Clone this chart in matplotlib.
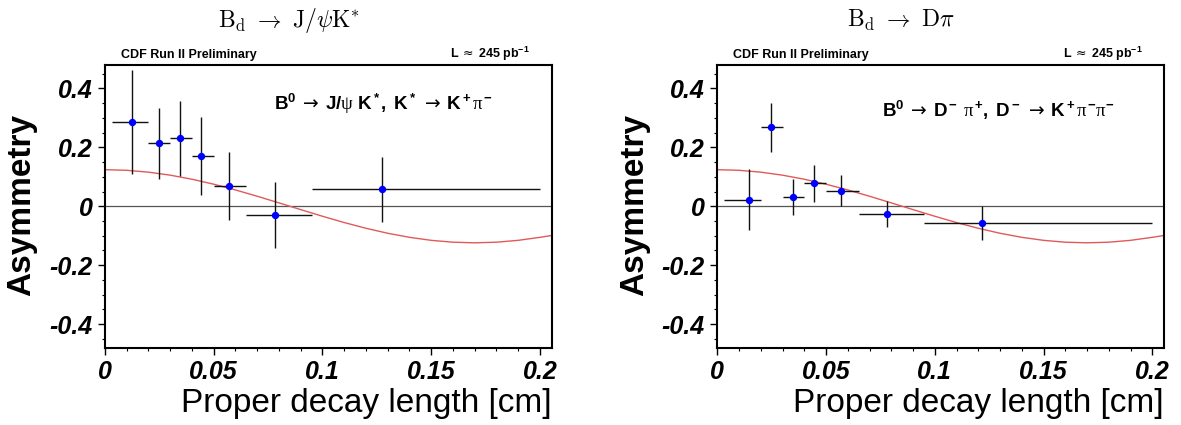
import matplotlib
matplotlib.use("Agg")
import matplotlib.pyplot as plt
from matplotlib.ticker import MultipleLocator, FixedFormatter, FixedLocator

plt.rcParams["font.family"] = ["Liberation Sans", "DejaVu Sans"]
plt.rcParams["axes.unicode_minus"] = False
plt.rcParams["mathtext.fontset"] = "custom"
plt.rcParams["mathtext.rm"] = "DejaVu Sans"
plt.rcParams["mathtext.bf"] = "Liberation Sans:bold"
plt.rcParams["mathtext.it"] = "Liberation Serif"

# bin edges in proper decay length (same binning for both channels)
bin_edges = [0.003, 0.020, 0.030, 0.040, 0.050, 0.065, 0.095, 0.200]

# B0 -> J/psi K*
jpsi_x = [0.0123, 0.0248, 0.0345, 0.0442, 0.0571, 0.0780, 0.1275]
jpsi_y = [0.286, 0.214, 0.230, 0.170, 0.068, -0.029, 0.057]
jpsi_err = [0.175, 0.120, 0.126, 0.133, 0.115, 0.112, 0.110]

# B0 -> D- pi+
dpi_x = [0.0147, 0.0249, 0.0346, 0.0444, 0.0571, 0.0780, 0.1216]
dpi_y = [0.022, 0.268, 0.030, 0.078, 0.053, -0.025, -0.057]
dpi_err = [0.103, 0.083, 0.061, 0.062, 0.053, 0.044, 0.057]

# fit curve
fit_x = [0.0, 0.01, 0.02, 0.03, 0.04, 0.05, 0.06, 0.07, 0.08, 0.09, 0.10,
         0.11, 0.12, 0.13, 0.14, 0.15, 0.16, 0.17, 0.18, 0.19, 0.20, 0.205]
fit_y = [0.1240, 0.1219, 0.1156, 0.1054, 0.0916, 0.0747, 0.0553, 0.0339,
         0.0114, -0.0114, -0.0339, -0.0553, -0.0747, -0.0916, -0.1054,
         -0.1156, -0.1219, -0.1240, -0.1219, -0.1156, -0.1054, -0.0996]

xticks = [0, 0.05, 0.1, 0.15, 0.2]
xtick_labels = ["0", "0.05", "0.1", "0.15", "0.2"]
yticks = [-0.4, -0.2, 0, 0.2, 0.4]
ytick_labels = ["-0.4", "-0.2", "0", "0.2", "0.4"]

panels = [
    (jpsi_x, jpsi_y, jpsi_err,
     r"$\mathbf{B^0}\;\rightarrow\;\mathbf{J/}\psi\ \mathbf{K^*,\ K^*}\;\rightarrow\;\mathbf{K^+}\pi^\mathbf{-}$",
     r"$\mathrm{B_d\ \rightarrow\ J/\psi K^{*}}$", 289, (0.866, 0.841)),
    (dpi_x, dpi_y, dpi_err,
     r"$\mathbf{B^0}\;\rightarrow\;\mathbf{D^-}\ \pi^\mathbf{+}\mathbf{,\ D^-}\;\rightarrow\;\mathbf{K^+}\pi^\mathbf{-}\pi^\mathbf{-}$",
     r"$\mathrm{B_d\ \rightarrow\ D\pi}$", 901, (0.89, 0.816)),
]

W, H = 1181, 425
fig = plt.figure(figsize=(W / 100, H / 100), dpi=100)

for i, (xs, ys, errs, label, title, title_x, label_pos) in enumerate(panels):
    left = 105 if i == 0 else 717.3
    ax = fig.add_axes([left / W, 1 - 347.5 / H, 446.7 / W, 282.5 / H])

    xlo = [x - bin_edges[k] for k, x in enumerate(xs)]
    xhi = [bin_edges[k + 1] - x for k, x in enumerate(xs)]

    ax.axhline(0, color="#555555", lw=0.9, zorder=1)
    ax.plot(fit_x, fit_y, color="#e05a5a", lw=1.0, zorder=2)
    ax.errorbar(xs, ys, xerr=[xlo, xhi], yerr=errs, fmt="o", color="blue",
                ecolor="#111111", elinewidth=1.0, capsize=0, markersize=4.3,
                zorder=3)

    ax.set_xlim(0, 0.2054)
    ax.set_ylim(-0.479, 0.479)
    ax.xaxis.set_major_locator(FixedLocator(xticks))
    ax.xaxis.set_major_formatter(FixedFormatter(xtick_labels))
    ax.xaxis.set_minor_locator(MultipleLocator(0.01))
    ax.yaxis.set_major_locator(FixedLocator(yticks))
    ax.yaxis.set_major_formatter(FixedFormatter(ytick_labels))
    ax.yaxis.set_minor_locator(MultipleLocator(0.05))
    ax.tick_params(which="major", length=5, width=1, direction="out", pad=4)
    ax.tick_params(which="minor", length=2.5, width=0.8, direction="out")
    for lab in ax.get_xticklabels() + ax.get_yticklabels():
        lab.set_fontsize(18)
        lab.set_fontweight("bold")
        lab.set_fontstyle("italic")
    for sp in ax.spines.values():
        sp.set_linewidth(1.5)

    ax.set_xlabel("Proper decay length [cm]", fontsize=24, loc="right",
                  labelpad=3)

    ax.text(label_pos[0], label_pos[1], label, transform=ax.transAxes,
            ha="right", va="baseline", fontsize=13.5)

    fig.text((left - 83) / W, 1 - 205 / H, "Asymmetry", fontsize=24,
             fontweight="bold", rotation=90, ha="center", va="center")
    fig.text((left + 16) / W, 1 - 58 / H, "CDF Run II Preliminary",
             fontsize=9, fontweight="bold", ha="left", va="baseline")
    fig.text((left + 425) / W, 1 - 58 / H,
             r"$\mathbf{L}\ \approx\ \mathbf{245\ pb^{-1}}$",
             fontsize=9, ha="right", va="baseline")
    fig.text(title_x / W, 1 - 27 / H, title, fontsize=17, ha="center",
             va="baseline", math_fontfamily="cm")

fig.savefig("out.png", dpi=100)
